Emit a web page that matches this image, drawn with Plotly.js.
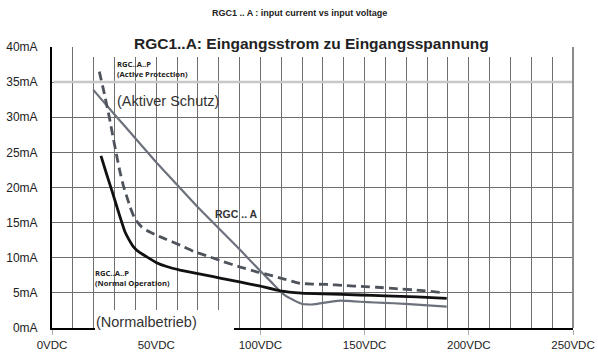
<!DOCTYPE html>
<html>
<head>
<meta charset="utf-8">
<script src="https://cdn.plot.ly/plotly-3.0.1.min.js"></script>
<style>html,body{margin:0;padding:0;background:#fff;}#chart{width:598px;height:352px;}</style>
</head>
<body>
<div id="chart"></div>
<script>
// ---- data ----
const xTickVals = [0, 50, 100, 150, 200, 250];
const xTickText = ["0VDC", "50VDC", "100VDC", "150VDC", "200VDC", "250VDC"];
const yTickVals = [0, 5, 10, 15, 20, 25, 30, 35, 40];
const yTickText = ["0mA", "5mA", "10mA", "15mA", "20mA", "25mA", "30mA", "35mA", "40mA"];

// RGC..A..P (Normal Operation) - solid black
const voltsNormal = [23.5, 26, 29, 32.6, 35, 37, 39, 42, 45.4, 50.2, 55, 61.4, 70, 77.4, 85, 95, 100, 109.4, 119.8, 130, 147.8, 160, 175, 189.4];
const mANormal    = [24.5, 22.1, 19.3, 15.85, 13.7, 12.55, 11.6, 10.75, 10.15, 9.3, 8.75, 8.25, 7.75, 7.3, 6.85, 6.25, 5.95, 5.3, 4.97, 4.85, 4.7, 4.58, 4.42, 4.23];

// RGC..A..P (Active Protection) - dashed
const voltsActive = [22.7, 25, 27.5, 29.4, 31, 32.5, 34.2, 36, 37.4, 39.8, 43, 46, 50.2, 55, 61.4, 68, 75, 82.2, 90, 98.2, 105, 111, 115.8, 119, 125, 131.8, 140, 150, 155.8, 165, 175, 186.2];
const mAActive    = [36.5, 33.5, 30.0, 27.0, 24.6, 22.4, 20.3, 18.6, 17.3, 15.5, 14.4, 13.8, 13.2, 12.6, 11.8, 10.9, 10.2, 9.45, 8.7, 8.0, 7.5, 7.0, 6.6, 6.36, 6.25, 6.2, 6.05, 5.9, 5.8, 5.6, 5.4, 5.08];

// RGC .. A - gray
const voltsRGCA = [19.8, 30, 40.6, 50, 60, 70, 80, 90, 100, 105, 109.4, 112.5, 115.8, 118, 120, 122.5, 125.4, 128.5, 131.8, 135, 138.2, 142, 147.8, 155, 163.8, 175, 189.4];
const mARGCA    = [33.9, 30.4, 26.8, 23.6, 20.4, 17.2, 14.2, 11.2, 8.1, 6.6, 5.25, 4.5, 4.0, 3.65, 3.42, 3.35, 3.37, 3.5, 3.66, 3.8, 3.89, 3.85, 3.74, 3.63, 3.52, 3.32, 3.03];

// ---- layout helpers (pixel -> paper) ----
const L = 52, R = 573, T = 47, B = 328;
const px = v => (v - L) / (R - L);
const py = v => (B - v) / (B - T);
const FONT = "Liberation Sans, Arial, sans-serif";
const SMALL = "Open Sans, Noto Sans, sans-serif";
const GRID = "#6e6e6e";

const traces = [
  {x: voltsRGCA, y: mARGCA, type: "scatter", mode: "lines", name: "RGC .. A",
   line: {color: "#6c717b", width: 2.2, shape: "spline", smoothing: 0.3}, hoverinfo: "skip"},
  {x: voltsActive, y: mAActive, type: "scatter", mode: "lines", name: "Active",
   line: {color: "#4f545c", width: 2.8, dash: "9px,5px", shape: "spline", smoothing: 0.3}, hoverinfo: "skip"},
  {x: voltsNormal, y: mANormal, type: "scatter", mode: "lines", name: "Normal",
   line: {color: "#111111", width: 2.8, shape: "spline", smoothing: 0.3}, hoverinfo: "skip"}
];

const whiteBox = (x0, x1, y0, y1, layer) => ({type: "rect", xref: "paper", yref: "paper",
  x0: px(x0), x1: px(x1), y0: py(y1), y1: py(y0), fillcolor: "#ffffff", line: {width: 0}, layer: layer});

const layout = {
  width: 598, height: 352,
  margin: {l: L, r: 598 - R, t: T, b: 352 - B, pad: 0},
  paper_bgcolor: "#ffffff", plot_bgcolor: "#ffffff",
  showlegend: false,
  font: {family: FONT, color: "#222"},
  xaxis: {
    range: [0, 250], tickvals: xTickVals, ticktext: xTickText,
    showgrid: true, gridcolor: GRID, gridwidth: 1,
    minor: {dtick: 10, showgrid: true, gridcolor: GRID, gridwidth: 1},
    showline: true, linecolor: "#000", linewidth: 2,
    ticks: "outside", ticklen: 5, tickcolor: "#aaa", tickwidth: 1,
    tickfont: {family: FONT, size: 11.5, color: "#222"},
    zeroline: false, fixedrange: true
  },
  yaxis: {
    range: [0, 40], tickvals: yTickVals, ticktext: yTickText,
    showgrid: true, gridcolor: GRID, gridwidth: 1,
    showline: true, linecolor: "#000", linewidth: 2,
    ticks: "", ticklabelstandoff: 10,
    tickfont: {family: FONT, size: 12, color: "#222"},
    zeroline: false, fixedrange: true
  },
  shapes: [
    // light gridline at 35 mA
    {type: "line", xref: "paper", yref: "paper", x0: 0.003, x1: 1, y0: py(82.1), y1: py(82.1), line: {color: "#c8c8c8", width: 2.5}, layer: "above"},
    // right border
    {type: "line", xref: "paper", yref: "paper", x0: 1, x1: 1, y0: 0, y1: 1, line: {color: "#8a8a8a", width: 2}, layer: "above"},
    // label background boxes
    whiteBox(80, 553, 28, 57, "above"),
    whiteBox(115, 228, 89, 112, "between"),
    whiteBox(93, 175, 266, 289, "between"),
    whiteBox(95, 234, 310, 336, "above"),
    whiteBox(212, 259, 206, 222, "between")
  ],
  annotations: [
    {text: "<b>RGC1 .. A : input current vs input voltage</b>", xref: "paper", yref: "paper",
     x: px(299), y: py(13), xanchor: "center", yanchor: "middle", showarrow: false,
     font: {family: FONT, size: 9, color: "#222"}},
    {text: "<b>RGC1..A: Eingangsstrom zu Eingangsspannung</b>", xref: "paper", yref: "paper",
     x: px(311), y: py(43.5), xanchor: "center", yanchor: "middle", showarrow: false,
     font: {family: FONT, size: 15.5, color: "#222"}},
    {text: "RGC..A..P<br>(Active Protection)", xref: "paper", yref: "paper", align: "left",
     x: px(115), y: py(69), xanchor: "left", yanchor: "middle", showarrow: false,
     font: {family: SMALL, size: 7.6, color: "#222", weight: 700}},
    {text: "(Aktiver Schutz)", xref: "paper", yref: "paper",
     x: px(115), y: py(101), xanchor: "left", yanchor: "middle", showarrow: false,
     font: {family: FONT, size: 14.5, color: "#333"}},
    {text: "<b>RGC .. A</b>", xref: "paper", yref: "paper",
     x: px(236.5), y: py(214), xanchor: "center", yanchor: "middle", showarrow: false,
     font: {family: FONT, size: 10.5, color: "#333"}},
    {text: "RGC..A..P<br>(Normal Operation)", xref: "paper", yref: "paper", align: "left",
     x: px(93), y: py(277.5), xanchor: "left", yanchor: "middle", showarrow: false,
     font: {family: SMALL, size: 7.6, color: "#222", weight: 700}},
    {text: "(Normalbetrieb)", xref: "paper", yref: "paper",
     x: px(94), y: py(322), xanchor: "left", yanchor: "middle", showarrow: false,
     font: {family: FONT, size: 14.5, color: "#333"}}
  ]
};

Plotly.newPlot("chart", traces, layout, {staticPlot: true, displayModeBar: false});
</script>
</body>
</html>
